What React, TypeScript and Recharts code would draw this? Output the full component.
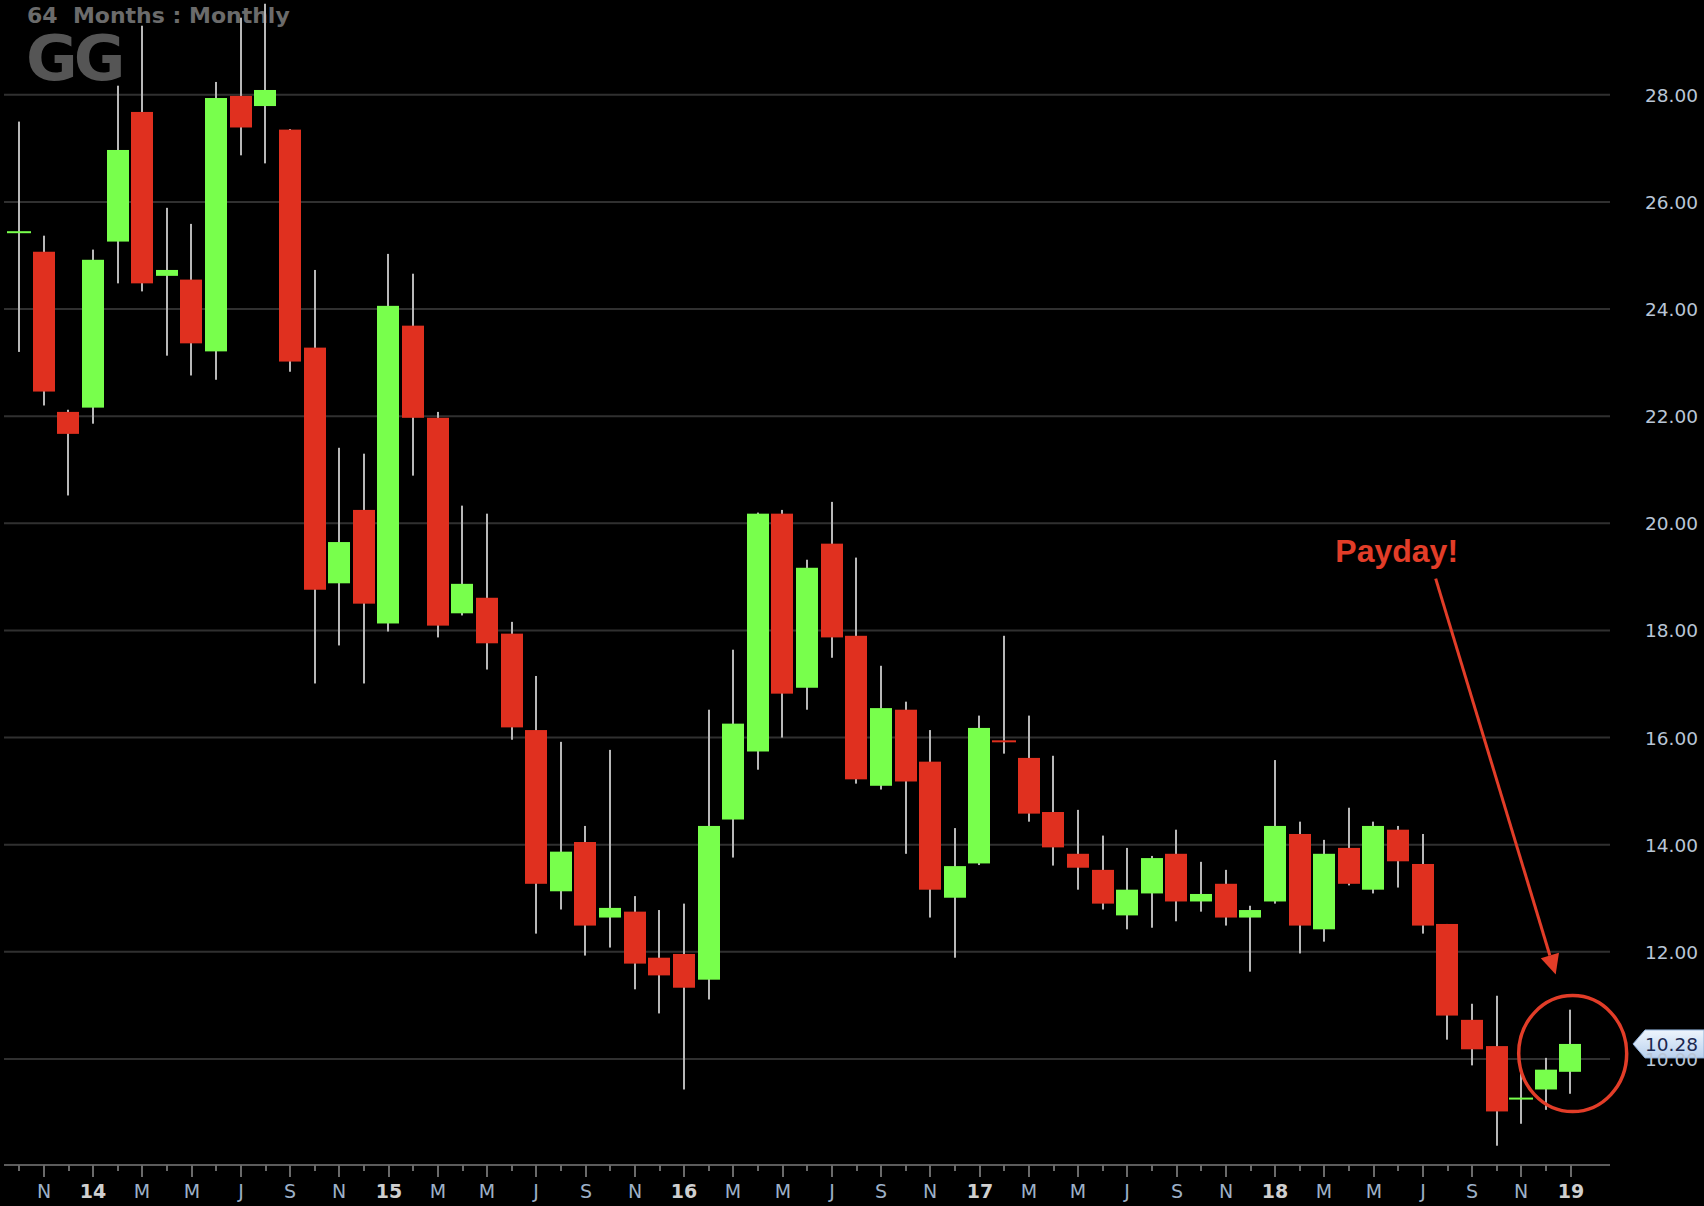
import { BarChart, Bar, XAxis, YAxis, CartesianGrid, ReferenceDot } from 'recharts'

// monthly candles, Oct 2013 .. Jan 2019
const months = [
  '2013-10', '2013-11', '2013-12',
  '2014-01', '2014-02', '2014-03', '2014-04', '2014-05', '2014-06', '2014-07', '2014-08', '2014-09', '2014-10', '2014-11', '2014-12',
  '2015-01', '2015-02', '2015-03', '2015-04', '2015-05', '2015-06', '2015-07', '2015-08', '2015-09', '2015-10', '2015-11', '2015-12',
  '2016-01', '2016-02', '2016-03', '2016-04', '2016-05', '2016-06', '2016-07', '2016-08', '2016-09', '2016-10', '2016-11', '2016-12',
  '2017-01', '2017-02', '2017-03', '2017-04', '2017-05', '2017-06', '2017-07', '2017-08', '2017-09', '2017-10', '2017-11', '2017-12',
  '2018-01', '2018-02', '2018-03', '2018-04', '2018-05', '2018-06', '2018-07', '2018-08', '2018-09', '2018-10', '2018-11', '2018-12',
  '2019-01',
]

const opens = [
  25.42, 25.07, 22.08,
  22.16, 25.26, 27.68, 24.62, 24.55, 23.21, 27.98, 27.79, 27.35, 23.28, 18.88, 20.25,
  18.13, 23.69, 21.97, 18.32, 18.61, 17.94, 16.14, 13.13, 14.05, 12.64, 12.75, 11.89,
  11.96, 11.48, 14.47, 15.74, 20.18, 16.93, 19.62, 17.90, 15.10, 16.52, 15.55, 13.01,
  13.65, 15.94, 15.62, 14.61, 13.83, 13.53, 12.68, 13.09, 13.83, 12.94, 13.27, 12.64,
  12.94, 14.20, 12.42, 13.94, 13.16, 14.28, 13.64, 12.52, 10.73, 10.24, 9.25, 9.43,
  9.76,
]
const highs = [
  27.50, 25.37, 22.12,
  25.11, 28.17, 29.29, 25.89, 25.59, 28.24, 29.44, 29.70, 27.36, 24.73, 21.41, 21.30,
  25.03, 24.66, 22.08, 20.33, 20.18, 18.16, 17.15, 15.92, 14.35, 15.77, 13.04, 12.78,
  12.90, 16.52, 17.64, 20.20, 20.25, 19.32, 20.40, 19.36, 17.34, 16.67, 16.14, 14.31,
  16.41, 17.90, 16.41, 15.66, 14.65, 14.17, 13.94, 13.79, 14.28, 13.68, 13.53, 12.86,
  15.58, 14.43, 14.09, 14.69, 14.43, 14.35, 14.20, 12.52, 11.03, 11.18, 9.74, 10.02,
  10.92,
]
const lows = [
  23.20, 22.20, 20.52,
  21.86, 24.48, 24.33, 23.13, 22.76, 22.68, 26.87, 26.72, 22.83, 17.01, 17.72, 17.01,
  17.98, 20.89, 17.87, 18.28, 17.27, 15.96, 12.34, 12.79, 11.93, 12.08, 11.30, 10.85,
  9.43, 11.11, 13.76, 15.40, 16.00, 16.52, 17.49, 15.14, 15.03, 13.83, 12.64, 11.89,
  13.62, 15.70, 14.43, 13.61, 13.16, 12.79, 12.42, 12.45, 12.57, 12.75, 12.49, 11.63,
  12.90, 11.97, 12.19, 13.24, 13.09, 13.20, 12.34, 10.36, 9.88, 8.38, 8.79, 9.05,
  9.35,
]
const closes = [
  25.45, 22.46, 21.67,
  24.92, 26.97, 24.48, 24.73, 23.36, 27.94, 27.39, 28.09, 23.02, 18.76, 19.65, 18.50,
  24.06, 21.97, 18.09, 18.87, 17.76, 16.19, 13.27, 13.87, 12.49, 12.82, 11.78, 11.56,
  11.33, 14.35, 16.26, 20.18, 16.82, 19.17, 17.87, 15.22, 16.55, 15.18, 13.16, 13.60,
  16.18, 15.92, 14.58, 13.95, 13.57, 12.90, 13.16, 13.75, 12.94, 13.08, 12.64, 12.78,
  14.35, 12.49, 13.83, 13.27, 14.35, 13.69, 12.49, 10.81, 10.18, 9.02, 9.27, 9.80,
  10.28,
]

// labels shown under every second month (Nov 2013, Jan 2014, ...)
const axisLabels = [
  'N', '14', 'M', 'M', 'J', 'S',
  'N', '15', 'M', 'M', 'J', 'S',
  'N', '16', 'M', 'M', 'J', 'S',
  'N', '17', 'M', 'M', 'J', 'S',
  'N', '18', 'M', 'M', 'J', 'S',
  'N', '19',
]
const priceTicks = [10, 12, 14, 16, 18, 20, 22, 24, 26, 28]
const lastPrice = 10.28

const W = 1704
const H = 1206
const X_AXIS_H = 41
const Y_AXIS_W = 94
const AXIS_Y = H - X_AXIS_H
const Y_MIN = 8.02
const Y_MAX = 29.77

const GREEN = '#78ff4c'
const RED = '#e0301f'
const WICK = '#b8b8b8'
const NOTE = '#e23d28'

const data = months.map((m, i) => ({
  month: m,
  open: opens[i],
  high: highs[i],
  low: lows[i],
  close: closes[i],
  range: [lows[i], highs[i]],
}))

// grid rows only at the price ticks (no border line on top of the plot)
const gridRows = priceTicks.map((t) => ((Y_MAX - t) / (Y_MAX - Y_MIN)) * AXIS_Y)

function Candle(props: any) {
  const { x, y, width, height, payload } = props
  if (!payload) return null
  const top = Math.min(y, y + height)
  const bottom = Math.max(y, y + height)
  const ppu = (bottom - top) / (payload.high - payload.low)
  const py = (v: number) => top + (payload.high - v) * ppu
  const cx = Math.round(x + width / 2)
  const up = payload.close >= payload.open
  const color = up ? GREEN : RED
  const bTop = py(Math.max(payload.open, payload.close))
  const bBot = py(Math.min(payload.open, payload.close))
  const flat = bBot - bTop < 2.5
  return (
    <g>
      <rect x={cx - 1} y={top} width={2} height={bottom - top} fill={WICK} />
      {flat ? (
        <rect x={cx - 12} y={(bTop + bBot) / 2 - 1} width={24} height={2} fill={color} />
      ) : (
        <rect x={cx - 11} y={bTop} width={22} height={bBot - bTop} fill={color} />
      )}
    </g>
  )
}

function MonthTick(props: any) {
  const { x } = props
  const index = props.index ?? props.payload?.index ?? 0
  const labelled = index % 2 === 1
  const label = labelled ? axisLabels[(index - 1) / 2] : ''
  const isYear = /^\d/.test(label)
  const cx = Math.round(x)
  return (
    <g>
      <line x1={cx} x2={cx} y1={AXIS_Y} y2={AXIS_Y + (labelled ? 12 : 6)} stroke="#6a6a6a" strokeWidth={2} />
      {labelled && (
        <text
          x={cx}
          y={AXIS_Y + 33}
          textAnchor="middle"
          fontFamily="DejaVu Sans, Verdana, sans-serif"
          fontSize={19}
          fontWeight={isYear ? 'bold' : 'normal'}
          fill={isYear ? '#cfcfcf' : '#9db0c8'}
        >
          {label}
        </text>
      )}
    </g>
  )
}

function PriceTick(props: any) {
  const { y, payload } = props
  return (
    <text
      x={W - 6}
      y={y}
      dy={7}
      textAnchor="end"
      fontFamily="DejaVu Sans, Verdana, sans-serif"
      fontSize={18.5}
      fill="#b9c6d6"
    >
      {Number(payload.value).toFixed(2)}
    </text>
  )
}

function PriceTag(props: any) {
  const { cy } = props
  if (cy == null) return null
  const x0 = W - Y_AXIS_W + 23
  const h = 14
  return (
    <g>
      <defs>
        <linearGradient id="tagFill" x1="0" y1="0" x2="0" y2="1">
          <stop offset="0%" stopColor="#eef5fd" />
          <stop offset="100%" stopColor="#b9d1ee" />
        </linearGradient>
      </defs>
      <polygon
        points={`${x0},${cy} ${x0 + 12},${cy - h} ${W},${cy - h} ${W},${cy + h} ${x0 + 12},${cy + h}`}
        fill="url(#tagFill)"
        stroke="#8fb0d8"
        strokeWidth={1}
      />
      <text
        x={W - 6}
        y={cy}
        dy={7}
        textAnchor="end"
        fontFamily="DejaVu Sans, Verdana, sans-serif"
        fontSize={18.5}
        fill="#1a2850"
      >
        {lastPrice.toFixed(2)}
      </text>
    </g>
  )
}

function PaydayMark(props: any) {
  const { cx, cy } = props
  if (cx == null || cy == null) return null
  const sx = cx - 135
  const sy = cy - 475
  const tx = cx - 15
  const ty = cy - 79
  const len = Math.hypot(tx - sx, ty - sy)
  const ux = (tx - sx) / len
  const uy = (ty - sy) / len
  const headL = 20
  const headW = 9.5
  const bx = tx - ux * headL
  const by = ty - uy * headL
  return (
    <g>
      <ellipse cx={cx + 2} cy={cy} rx={54} ry={58} fill="none" stroke={NOTE} strokeWidth={3.5} />
      <line x1={sx} y1={sy} x2={bx} y2={by} stroke={NOTE} strokeWidth={3} />
      <polygon
        points={`${tx},${ty} ${bx - uy * headW},${by + ux * headW} ${bx + uy * headW},${by - ux * headW}`}
        fill={NOTE}
      />
      <text
        x={cx - 174}
        y={cy - 492}
        textAnchor="middle"
        fontFamily="Liberation Sans, Arial, sans-serif"
        fontWeight="bold"
        fontSize={32}
        fill={NOTE}
      >
        Payday!
      </text>
    </g>
  )
}

export default function App() {
  return (
    <div style={{ position: 'fixed', left: 0, top: 0, width: W, height: H, background: '#000', overflow: 'hidden' }}>
      <svg width={W} height={H} style={{ position: 'absolute', left: 0, top: 0 }}>
        <text
          x={27}
          y={23}
          fontFamily="DejaVu Sans, Verdana, sans-serif"
          fontWeight="bold"
          fontSize={22}
          fill="#6b6b6b"
          style={{ whiteSpace: 'pre' }}
        >
          {'64  Months : Monthly'}
        </text>
        <text
          x={26}
          y={80}
          fontFamily="DejaVu Sans, Verdana, sans-serif"
          fontWeight="bold"
          fontSize={63}
          letterSpacing={-4}
          fill="#555555"
        >
          GG
        </text>
      </svg>
      <div style={{ position: 'absolute', left: 0, top: 0 }}>
        <BarChart width={W} height={H} data={data} margin={{ top: 0, right: 0, bottom: 0, left: 4 }} barSize={22}>
          <CartesianGrid vertical={false} stroke="#303030" strokeWidth={2} horizontalPoints={gridRows} />
          <XAxis
            dataKey="month"
            height={X_AXIS_H}
            interval={0}
            padding={{ left: 3, right: 27 }}
            axisLine={{ stroke: '#5c5c5c', strokeWidth: 2 }}
            tickLine={false}
            tick={<MonthTick />}
          />
          <YAxis
            orientation="right"
            width={Y_AXIS_W}
            domain={[Y_MIN, Y_MAX]}
            ticks={priceTicks}
            allowDataOverflow
            axisLine={false}
            tickLine={false}
            tick={<PriceTick />}
          />
          <Bar dataKey="range" shape={<Candle />} isAnimationActive={false} />
          <ReferenceDot x="2019-01" y={10.1} r={0} shape={<PaydayMark />} />
          <ReferenceDot x="2019-01" y={lastPrice} r={0} shape={<PriceTag />} />
        </BarChart>
      </div>
    </div>
  )
}
